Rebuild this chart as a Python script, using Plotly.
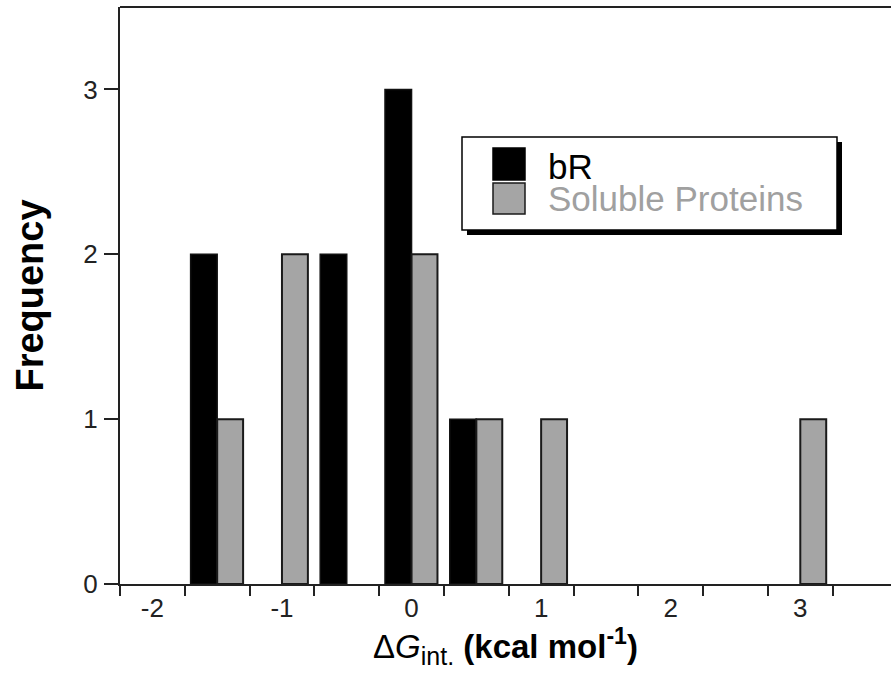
import plotly.graph_objects as go

# ---- data ----
bin_centers = [-1.5, -1.0, -0.5, 0.0, 0.5, 1.0, 1.5, 2.0, 2.5, 3.0]
br_counts = [2, 0, 2, 3, 1, 0, 0, 0, 0, 0]
soluble_counts = [1, 2, 0, 2, 1, 1, 0, 0, 0, 1]
x_tick_vals = [-2, -1, 0, 1, 2, 3]
x_tick_text = ["-2", "-1", "0", "1", "2", "3"]
x_edge_ticks = [-2.25, -1.75, -1.25, -0.75, -0.25, 0.25, 0.75, 1.25, 1.75, 2.25, 2.75, 3.25]
y_tick_vals = [0, 1, 2, 3]
series_names = ["bR", "Soluble Proteins"]

FONT = "Liberation Sans, Arial, sans-serif"
W, H = 891, 687
L, R, T, B = 120, 0, 7, 103
PW, PH = W - L - R, H - T - B


def px(x):
    return (x - L) / PW


def py(y):
    return (H - B - y) / PH


def nz(vals):
    return [v if v else None for v in vals]


fig = go.Figure()
fig.add_trace(go.Bar(
    x=bin_centers, y=nz(br_counts), name=series_names[0],
    width=0.205, offset=-0.205,
    marker=dict(color="#000000", line=dict(color="#111111", width=1.5)),
    showlegend=False,
))
fig.add_trace(go.Bar(
    x=bin_centers, y=nz(soluble_counts), name=series_names[1],
    width=0.2, offset=0.0,
    marker=dict(color="#a5a5a5", line=dict(color="#1a1a1a", width=2)),
    showlegend=False,
))

shapes = [
    # top frame line
    dict(type="line", xref="paper", yref="paper", x0=0, x1=1, y0=1, y1=1,
         line=dict(color="#222222", width=2), layer="above"),
    # legend box with drop shadow
    dict(type="rect", xref="paper", yref="paper",
         x0=px(467), x1=px(842), y0=py(235), y1=py(142),
         fillcolor="#000000", line=dict(width=0), layer="above"),
    dict(type="rect", xref="paper", yref="paper",
         x0=px(462), x1=px(837), y0=py(230), y1=py(137),
         fillcolor="#ffffff", line=dict(color="#000000", width=1.5), layer="above"),
    dict(type="rect", xref="paper", yref="paper",
         x0=px(493), x1=px(525), y0=py(180), y1=py(148),
         fillcolor="#000000", line=dict(color="#000000", width=1.5), layer="above"),
    dict(type="rect", xref="paper", yref="paper",
         x0=px(493), x1=px(525), y0=py(214), y1=py(183),
         fillcolor="#a5a5a5", line=dict(color="#1a1a1a", width=1.5), layer="above"),
]
annotations = [
    dict(xref="paper", yref="paper", x=px(546), y=py(166), xanchor="left", yanchor="middle",
         text=series_names[0], showarrow=False,
         font=dict(family=FONT, size=35, color="#000000")),
    dict(xref="paper", yref="paper", x=px(546), y=py(199), xanchor="left", yanchor="middle",
         text=series_names[1], showarrow=False,
         font=dict(family=FONT, size=35, color="#a0a0a0")),
]

fig.update_layout(
    width=W, height=H,
    margin=dict(l=L, r=R, t=T, b=B, pad=0),
    paper_bgcolor="white", plot_bgcolor="white",
    barmode="overlay",
    font=dict(family=FONT, color="#000000"),
    shapes=shapes, annotations=annotations,
    xaxis=dict(
        range=[-2.25, 3.70],
        tickmode="array", tickvals=x_tick_vals, ticktext=x_tick_text,
        ticks="", ticklabelstandoff=0,
        minor=dict(tickmode="array", tickvals=x_edge_ticks, ticks="outside",
                   ticklen=10, tickwidth=2, tickcolor="#222222", showgrid=False),
        tickfont=dict(family=FONT, size=26, color="#222222"),
        showline=True, linecolor="#222222", linewidth=2, mirror=False,
        showgrid=False, zeroline=False,
        title=dict(
            text="Δ<i>G</i><sub><span style='font-size:25px'>int.</span></sub> <b>(kcal mol<sup>-1</sup>)</b>",
            font=dict(family=FONT, size=33, color="#000000"),
            standoff=12,
        ),
        automargin=False,
    ),
    yaxis=dict(
        range=[0, 3.5],
        tickmode="array", tickvals=y_tick_vals,
        ticks="outside", ticklen=14, tickwidth=2, tickcolor="#222222",
        ticklabelstandoff=1,
        tickfont=dict(family=FONT, size=26, color="#222222"),
        showline=True, linecolor="#222222", linewidth=2, mirror=False,
        showgrid=False, zeroline=False,
        title=dict(text="<b>Frequency</b>",
                   font=dict(family=FONT, size=38, color="#000000"),
                   standoff=28),
        automargin=False,
    ),
)

fig.write_html("out.html", config={"displayModeBar": False},
               post_script="document.body.style.margin='0';document.body.style.overflow='hidden';")
